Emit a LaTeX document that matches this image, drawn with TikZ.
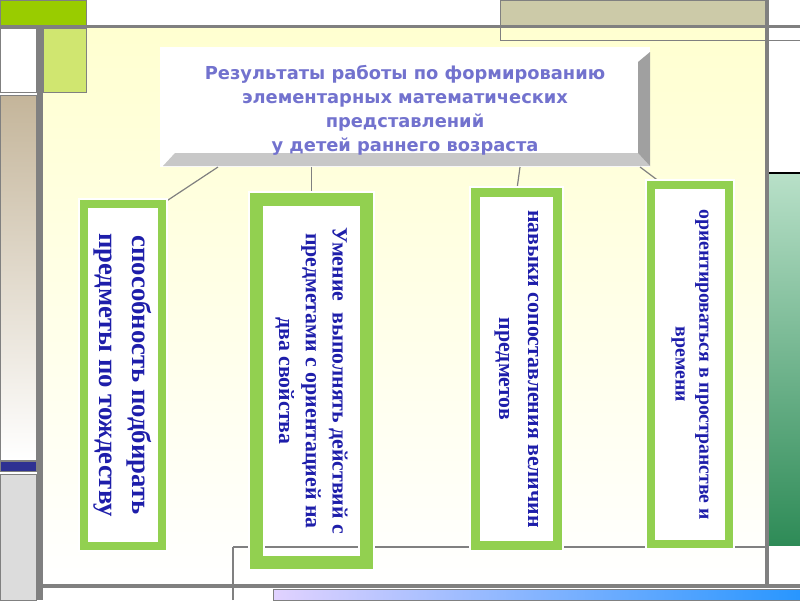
\documentclass[tikz,border=0pt]{standalone}
\usepackage{fontspec}
\setmainfont{Liberation Serif}
\newfontfamily\headfont{DejaVu Sans}
\usetikzlibrary{positioning,calc}

\newdimen\pxu \pxu=0.025cm

\definecolor{framegray}{RGB}{128,128,128}
\definecolor{fieldyellow}{RGB}{255,255,208}
\definecolor{topgreen}{RGB}{153,204,0}
\definecolor{palegreen}{RGB}{208,230,112}
\definecolor{khaki}{RGB}{204,202,168}
\definecolor{tanbrown}{RGB}{196,181,154}
\definecolor{navyband}{RGB}{46,49,146}
\definecolor{lightgraypanel}{RGB}{220,220,220}
\definecolor{mintgreen}{RGB}{184,224,200}
\definecolor{seagreen}{RGB}{46,139,87}
\definecolor{lilac}{RGB}{225,210,255}
\definecolor{skyblue}{RGB}{40,150,255}
\definecolor{boxgreen}{RGB}{146,208,80}
\definecolor{headblue}{RGB}{114,114,206}
\definecolor{textblue}{RGB}{30,30,170}
\definecolor{bevellight}{RGB}{200,200,200}
\definecolor{beveldark}{RGB}{160,160,160}

\begin{document}
\begin{tikzpicture}[x=0.025cm, y=-0.025cm,
  panel/.style={draw=framegray, line width=1\pxu},
  rule/.style={draw=framegray, line width=#1\pxu},
  thinline/.style={draw=framegray, line width=1.2\pxu},
  link/.style={draw=framegray, line width=1.2\pxu},
  greenbox/.style={draw=boxgreen, fill=white, outer sep=0pt, line width=#1\pxu,
                   preaction={draw=white, line width=#1\pxu+4\pxu}},
  boxrim/.style={draw=boxgreen, line width=#1\pxu,
                 preaction={draw=white, line width=#1\pxu+4\pxu}},
  headbox/.style={fill=white, outer sep=0pt, minimum width=490\pxu,
                  minimum height=120\pxu},
  headtext/.style={align=center, text=headblue,
                   font=\headfont\bfseries\fontsize{12.7}{17}\selectfont},
  boxtext/.style={rotate=-90, align=center, text=textblue},
  ]
  \useasboundingbox (0,0) rectangle (800,600);
  \fill[white] (0,0) rectangle (800,600);

  % slide frame
  \shade[top color=fieldyellow, bottom color=white] (40,26) rectangle (767,585);
  \filldraw[panel, fill=topgreen] (0,0) rectangle (86,25);
  \filldraw[panel, fill=white] (0,28) rectangle (36,92);
  \filldraw[panel, fill=palegreen] (43,28) rectangle (86,92);
  \shade[top color=tanbrown, bottom color=white, draw=framegray] (0,95) rectangle (36,460);
  \filldraw[panel, fill=navyband] (0,461) rectangle (36,471);
  \filldraw[panel, fill=lightgraypanel] (0,474) rectangle (36,600);
  \filldraw[panel, fill=khaki] (500,0) rectangle (765,25);
  \draw[panel] (500,25) -- (500,40) -- (800,40);
  \draw[black, line width=1.5\pxu] (769,173) -- (800,173);
  \shade[top color=mintgreen, bottom color=seagreen] (769,174) rectangle (800,545);
  \draw[rule=3] (0,26.5) -- (800,26.5);
  \draw[rule=6] (40,26) -- (40,600);
  \draw[rule=4] (767,0) -- (767,587);
  \draw[rule=4] (40,585.5) -- (800,585.5);
  \shade[left color=lilac, right color=skyblue, draw=framegray] (273,589) rectangle (800,600);
  \draw[thinline] (233,600) -- (233,547);

  % title block
  \node[headbox] (head) at (405,107) {};
  \fill[bevellight] ($(head.south west)+(3,-1)$) -- ($(head.south west)+(15,-14)$)
    -- ($(head.south east)+(-12,-14)$) -- ($(head.south east)+(0,-1)$) -- cycle;
  \fill[beveldark] ($(head.south east)+(-12,-14)$) -- ($(head.north east)+(-12,15)$)
    -- ($(head.north east)+(0,5)$) -- ($(head.south east)+(0,-1)$) -- cycle;
  \node[headtext] (title) at (405,110) {Результаты работы по формированию\\
    элементарных математических\\представлений\\у детей раннего возраста};

  % result boxes
  \node[greenbox=8, minimum width=78\pxu, minimum height=342\pxu] (b1) at (123,375) {};
  \node[greenbox=13, minimum width=110\pxu, minimum height=363\pxu] (b2) at (311.5,381) {};
  \node[greenbox=9, minimum width=82\pxu, minimum height=353\pxu] (b3) at (516.5,369) {};
  \node[greenbox=8, minimum width=78\pxu, minimum height=359\pxu] (b4) at (690,364.5) {};

  \node[boxtext, font=\bfseries\fontsize{19}{23.5}\selectfont] (t1) at (b1.center)
    {способность подбирать\\предметы по тождеству};
  \node[boxtext, font=\bfseries\fontsize{15.5}{19}\selectfont] (t2) at (b2.center)
    {Умение~ выполнять действий с\\предметами с ориентацией на\\два свойства};
  \node[boxtext, font=\bfseries\fontsize{15.5}{20.6}\selectfont] (t3) at (b3.center)
    {навыки сопоставления величин\\предметов};
  \node[boxtext, font=\bfseries\fontsize{14}{17}\selectfont] (t4) at (b4.center)
    {ориентироваться в пространстве и\\времени};

  % connectors
  \draw[link] ($(head.south west)+(58,0)$) -- (b1.north east);
  \draw[link] (b2.north |- head.south) -- (b2.north);
  \draw[link] ($(head.south)+(115,0)$) -- (b3.north);
  \draw[link] ($(head.south east)+(-10,0)$) -- ($(b4.north west)+(13,0)$);

  \draw[thinline] (233,547) -- (765,547);
  \foreach \b/\w in {b1/8, b2/13, b3/9, b4/8}
    \draw[boxrim=\w] (\b.north west) rectangle (\b.south east);
\end{tikzpicture}
\end{document}
